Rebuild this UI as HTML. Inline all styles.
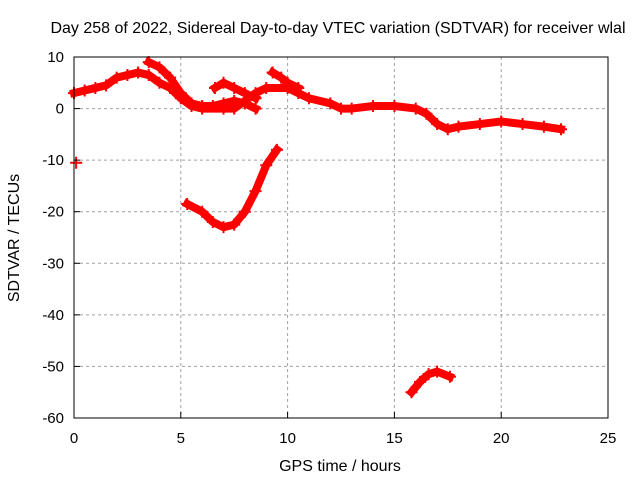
<!DOCTYPE html>
<html><head><meta charset="utf-8"><style>
body{margin:0;background:#fff}
svg{display:block;font-family:"Liberation Sans",sans-serif}
</style></head><body>
<svg id="chart" width="640" height="480">
<rect width="640" height="480" fill="#fff"/>
<g id="grid"></g>
<g id="series"></g>
<rect x="74" y="57" width="534" height="361" fill="none" stroke="#000" stroke-width="1"/>
<g id="ticks"></g>
<text x="338" y="33" text-anchor="middle" font-size="16">Day 258 of 2022, Sidereal Day-to-day VTEC variation (SDTVAR) for receiver wlal</text>
<text x="340" y="471" text-anchor="middle" font-size="16">GPS time / hours</text>
<text transform="translate(19,238) rotate(-90)" text-anchor="middle" font-size="16">SDTVAR / TECUs</text>
</svg>
<script>
const xTicks=[0,5,10,15,20,25];
const yTicks=[10,0,-10,-20,-30,-40,-50,-60];
const mainT=[0,0.5,1,1.5,2,2.5,3,3.5,4,4.5,5,5.5,6,7,7.5,8,8.5,9,10,10.5,11,12,12.5,13,14,15,16,16.5,17,17.5,18,19,20,21,22,22.8];
const mainV=[3,3.5,4,4.5,6,6.5,7,6.5,5,4,2,0.5,0,0,0,1.5,3,4,4,3,2,1,0,0,0.5,0.5,0,-1,-3,-4,-3.5,-3,-2.5,-3,-3.5,-4];
const upperT=[3.5,4,4.5,5,5.5,6,6.5,7,7.5,8,8.5];
const upperV=[9,8,6,3,1,0.5,0.5,1,1.5,1,0];
const humpT=[6.6,7,7.5,8,8.5];
const humpV=[4,5,4,3,2];
const lateT=[9.3,9.7,10,10.5];
const lateV=[7,6,5,4];
const dipT=[5.3,6,6.5,7,7.5,8,8.5,9,9.5];
const dipV=[-18.5,-20,-22,-23,-22.5,-20,-16,-11,-8];
const lowT=[15.8,16.2,16.6,17,17.6];
const lowV=[-55,-53,-51.5,-51,-52];
const dotT=[0.1];
const dotV=[-10.5];
const X=t=>74+t*534/25;
const Y=v=>57+(10-v)*361/70;
const NS="http://www.w3.org/2000/svg";
const grid=document.getElementById('grid'),ticks=document.getElementById('ticks'),ser=document.getElementById('series');
function mk(tag,attrs,parent){const e=document.createElementNS(NS,tag);for(const k in attrs)e.setAttribute(k,attrs[k]);parent.appendChild(e);return e;}
xTicks.forEach(t=>{
 if(t>0&&t<25){const g=mk('line',{x1:X(t),x2:X(t),y1:57,y2:418,stroke:'#a0a0a0','stroke-dasharray':'3,3'},grid);
 
 }
 mk('line',{x1:X(t),x2:X(t),y1:418,y2:412,stroke:'#000'},ticks);
 const l=mk('text',{x:X(t),y:443,'text-anchor':'middle','font-size':'15'},ticks);l.textContent=t;
 
 
});
yTicks.forEach(v=>{
 if(v>-60&&v<10){const g=mk('line',{x1:74,x2:608,y1:Y(v),y2:Y(v),stroke:'#a0a0a0','stroke-dasharray':'3,3'},grid);
 
 }
 mk('line',{x1:74,x2:80,y1:Y(v),y2:Y(v),stroke:'#000'},ticks);
 const l=mk('text',{x:64,y:Y(v)+5,'text-anchor':'end','font-size':'15'},ticks);l.textContent=v;
 
 
});
function series(T,V,name){
 const p=mk('polyline',{points:T.map((t,i)=>X(t)+','+Y(V[i])).join(' '),fill:'none',stroke:'#f00','stroke-width':8,'stroke-linejoin':'round','stroke-linecap':'square'},ser);
 
 
 T.forEach((t,i)=>{const m=mk('path',{d:`M${X(t)-6},${Y(V[i])}h12M${X(t)},${Y(V[i])-6}v12`,stroke:'#f00','stroke-width':2},ser);
 
 });
}
series(mainT,mainV,'main-track');
series(upperT,upperV,'upper-branch');
series(humpT,humpV,'hump-branch');
series(lateT,lateV,'late-branch');
series(dipT,dipV,'dip-track');
series(lowT,lowV,'low-track');
series(dotT,dotV,'isolated-point');
</script>
</body></html>
